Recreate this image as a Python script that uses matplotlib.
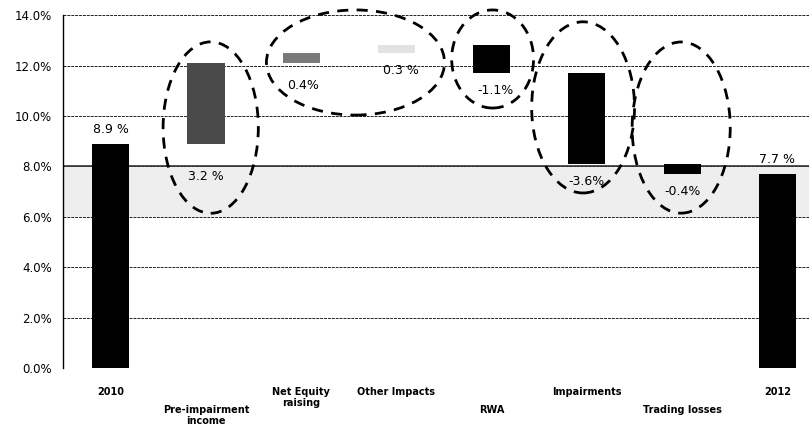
import matplotlib.pyplot as plt
from matplotlib.patches import Ellipse
from matplotlib.ticker import FuncFormatter

# capital ratio walk 2010 -> 2012
categories = ["2010", "Pre-impairment\nincome", "Net Equity\nraising", "Other Impacts",
              "RWA", "Impairments", "Trading losses", "2012"]
start_value = 8.9
changes = [3.2, 0.4, 0.3, -1.1, -3.6, -0.4]
end_value = 7.7
change_labels = ["3.2 %", "0.4%", "0.3 %", "-1.1%", "-3.6%", "-0.4%"]

bar_colors = ["black", "#4a4a4a", "#7a7a7a", "#e2e2e2", "black", "black", "black", "black"]

# floating bars
bottoms, heights = [0], [start_value]
level = start_value
for c in changes:
    bottoms.append(min(level, level + c))
    heights.append(abs(c))
    level += c
bottoms.append(0)
heights.append(end_value)

fig = plt.figure(figsize=(8.09, 4.32), dpi=100)
ax = fig.add_axes([0.078, 0.148, 0.93, 0.817])

ax.axhspan(6, 8, color="#eeeeee", zorder=0, lw=0)
for y in range(0, 15, 2):
    ax.axhline(y, color="#222222", lw=0.7, ls=(0, (3, 1)), zorder=1)
ax.axhline(8, color="#333333", lw=1.2, zorder=1)

x = list(range(len(categories)))
ax.bar(x, heights, bottom=bottoms, width=0.39, color=bar_colors, zorder=3)

# value labels
ax.text(0, start_value + 0.3, "8.9 %", ha="center", va="bottom", fontsize=9)
ax.text(7, end_value + 0.3, "7.7 %", ha="center", va="bottom", fontsize=9)
label_drop = [1.3, 0.9, 0.7, 0.7, 0.7, 0.7]
label_shift = [0, 0.02, 0.05, 0.04, 0.0, 0.0]
for i, (lab, b) in enumerate(zip(change_labels, bottoms[1:7])):
    ax.text(i + 1 + label_shift[i], b - label_drop[i], lab, ha="center", va="center",
            fontsize=9, zorder=4)

# dashed rings around the movements
rings = [(1.05, 9.54, 1.0, 6.8), (2.57, 12.12, 1.87, 4.17), (4.01, 12.26, 0.86, 3.89),
         (4.96, 10.34, 1.08, 6.79), (5.99, 9.54, 1.03, 6.79)]
for cx, cy, w, h in rings:
    ax.add_patch(Ellipse((cx, cy), w, h, fill=False, ec="black", lw=2,
                         ls=(0, (4, 3)), clip_on=False, zorder=5))

ax.set_xlim(-0.5, 7.4)
ax.set_ylim(0, 14)
ax.set_yticks(range(0, 15, 2))
ax.yaxis.set_major_formatter(FuncFormatter(lambda v, p: f"{v:.1f}%"))
ax.tick_params(axis="y", length=0, labelsize=8.5, pad=8)
ax.tick_params(axis="x", length=0)
ax.set_xticks([])
for s in ["top", "right", "bottom"]:
    ax.spines[s].set_visible(False)
ax.spines["left"].set_linewidth(1)

# staggered category names
rows = [0, 1, 0, 0, 1, 0, 1, 0]
for i, (name, r) in enumerate(zip(categories, rows)):
    ax.text(i, -0.75 - r * 0.72, name, ha="center", va="top", fontsize=7,
            fontweight="bold", linespacing=1.1)

fig.savefig("out.png", dpi=100)
